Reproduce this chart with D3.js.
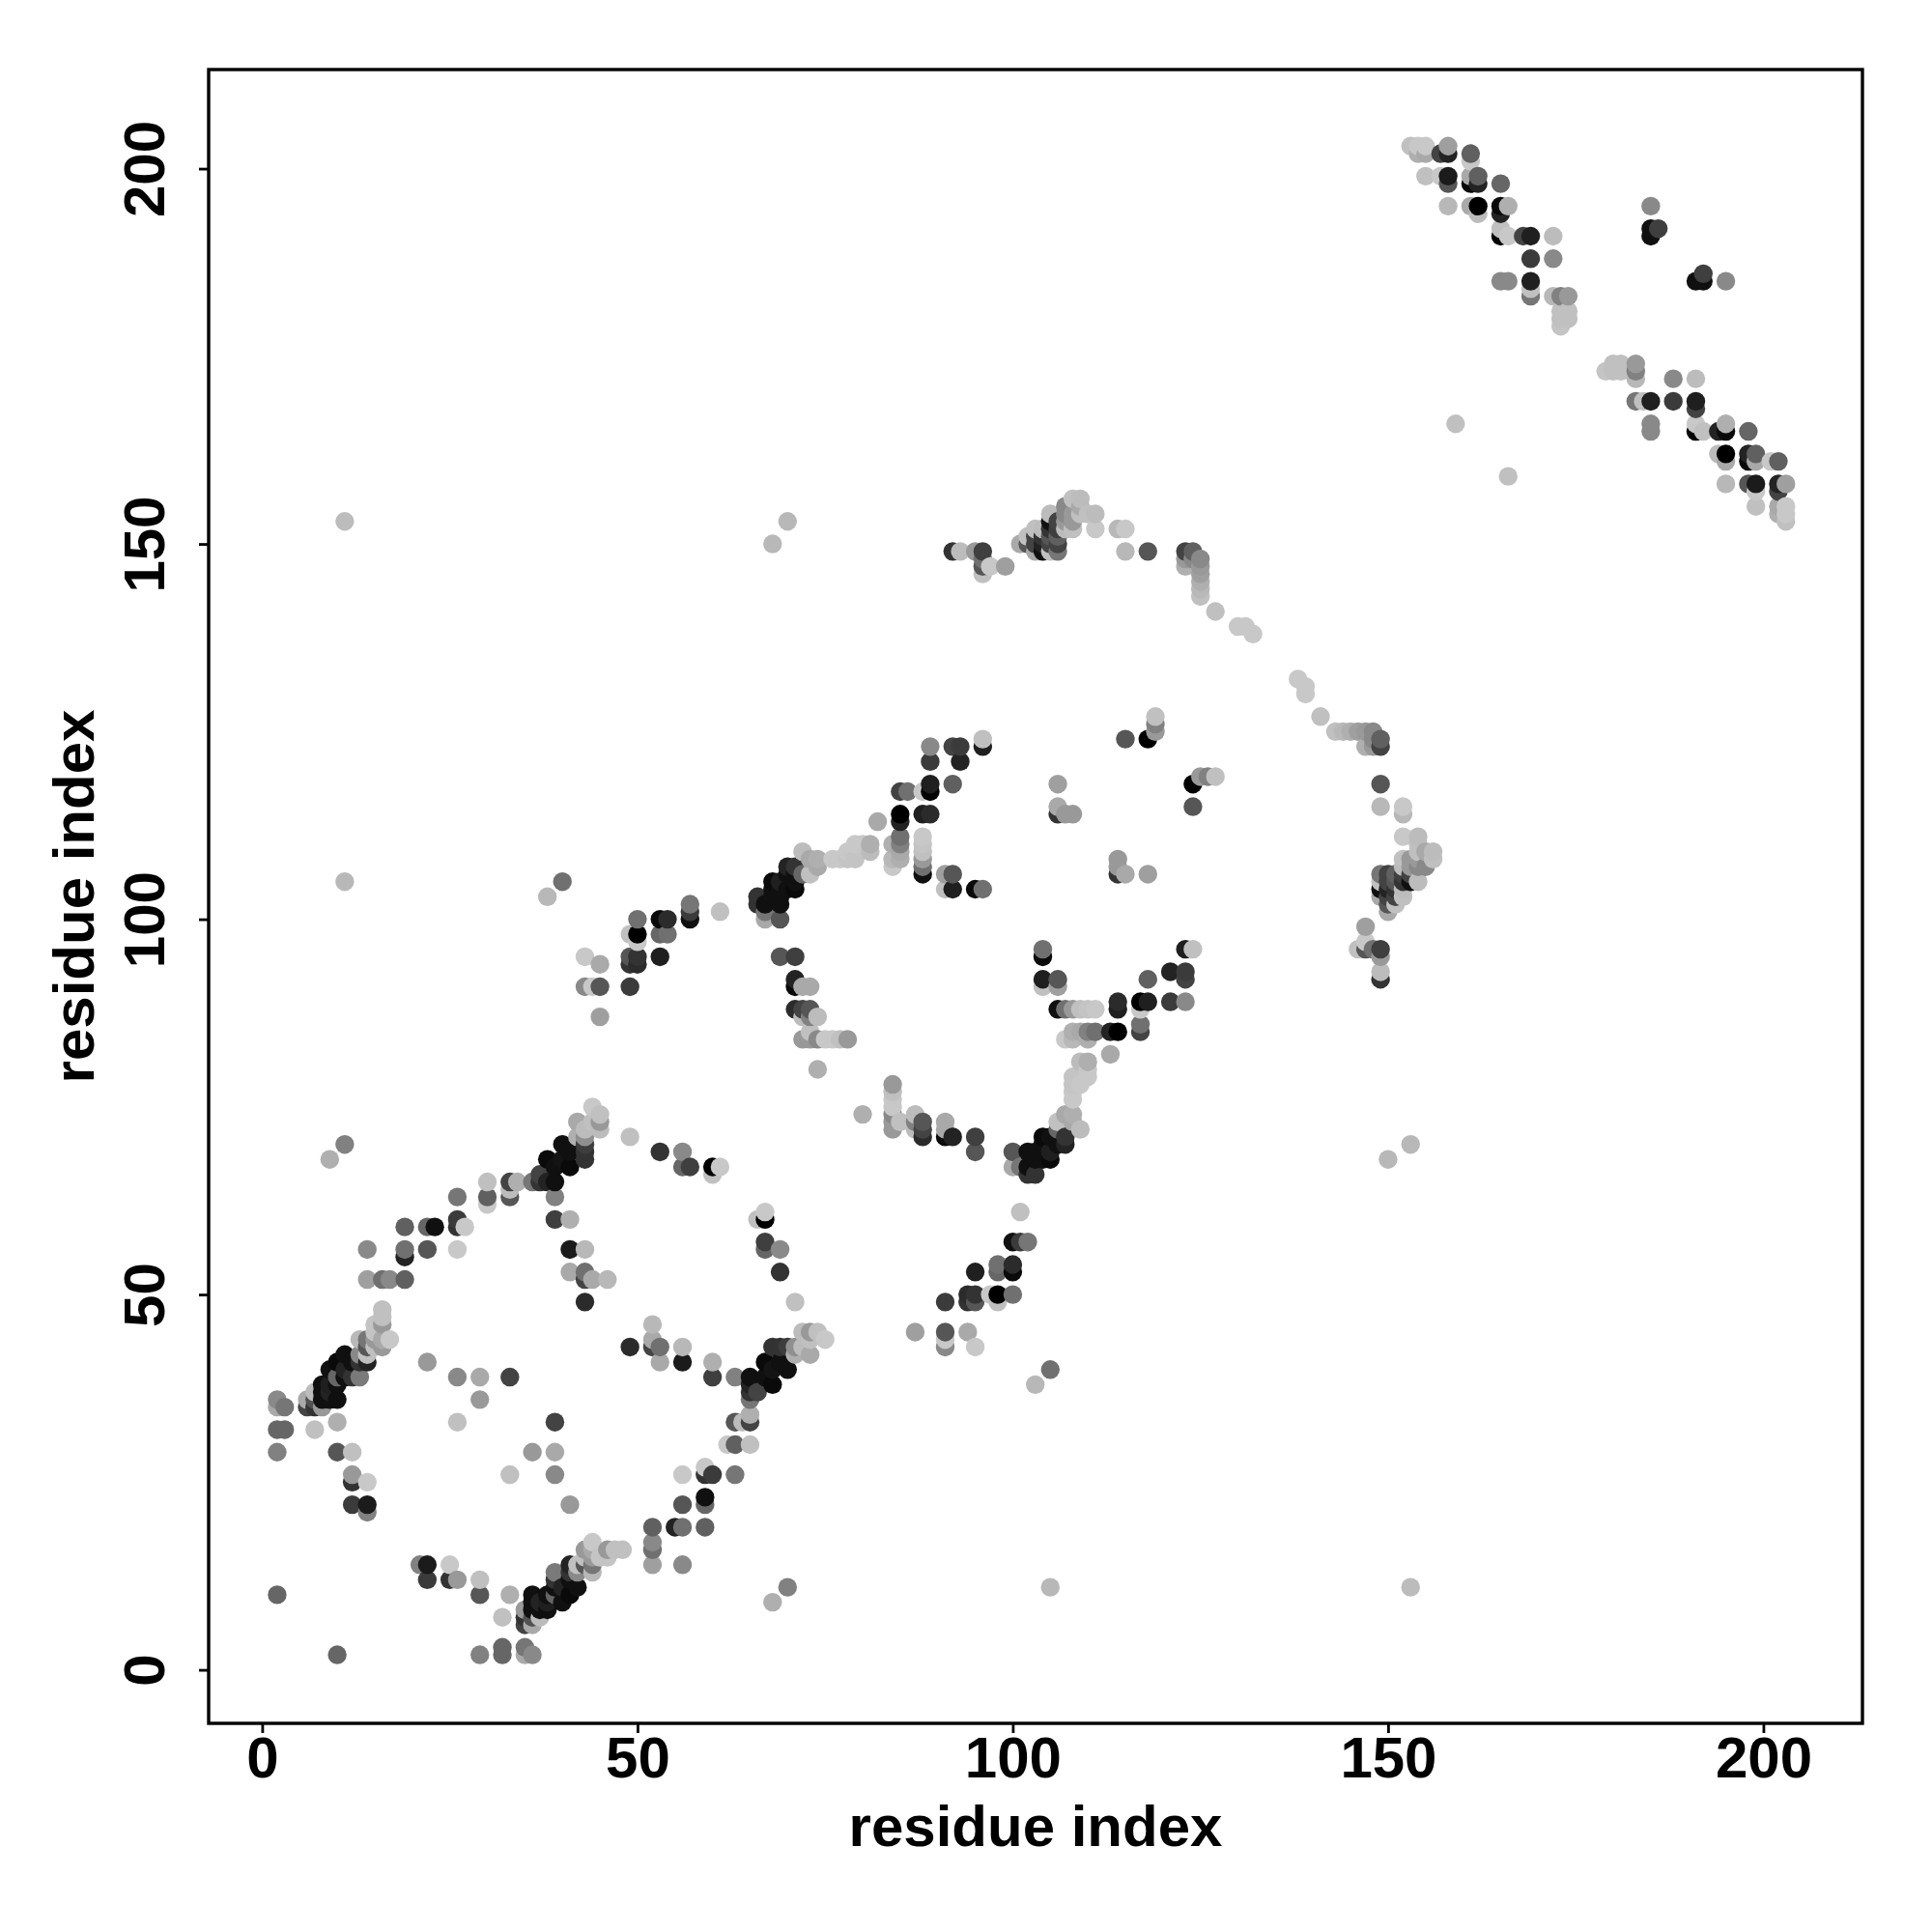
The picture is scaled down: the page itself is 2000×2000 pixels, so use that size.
<!DOCTYPE html>
<html>
<head>
<meta charset="utf-8">
<script src="https://cdn.jsdelivr.net/npm/d3@7"></script>
<style>
html,body{margin:0;padding:0;background:#fff}
svg{display:block}
text{font-family:"Liberation Sans",Arial,sans-serif;font-weight:bold;fill:#000}
</style>
</head>
<body>
<svg id="chart" width="2000" height="2000"></svg>
<script>
// Contact map: each row is [residue i, residue j, contact strength 0-100], i < j.
// The matrix is symmetric, so each row is shown at (i,j) and at (j,i).
const strayContacts = [
[2,10,50],[9,68,14],[11,70,37],[11,105,10],[11,153,8],[38,103,10],[40,105,45],[68,150,10],[70,153,10],[159,166,6]
];
const helixBandA = [
[2,29,37],[2,32,50],[2,35,17],[2,36,33],[3,32,50],[3,35,42],[6,35,67],[6,36,17],[7,32,6],[7,35,75],[7,36,60],[7,37,8],
[8,35,25],[8,36,92],[8,37,92],[8,38,92],[9,36,92],[9,37,83],[9,38,85],[9,40,92],[10,29,58],[10,33,14],[10,36,92],[10,38,92],
[10,39,50],[10,41,95],[11,39,92],[11,40,83],[11,42,92],[12,39,75],[12,41,92],[13,39,40],[13,41,75],[13,42,33],[13,44,10],
[14,41,83],[14,42,6],[14,43,58],[14,44,42],[15,43,6],[15,44,25],[15,45,4],[15,46,4],[16,43,25],[16,44,17],[16,46,25],[16,47,6],[16,48,6],[17,44,2]
];
const loopContactsA = [
[12,22,71],[12,25,75],[12,26,25],[12,29,6],[14,21,37],[14,22,87],[14,25,2],[14,52,22],[14,56,33],[16,52,45],[17,52,33],
[19,52,53],[19,55,83],[19,56,45],[19,59,53],[22,41,25],[22,56,58],[22,59,50],[23,59,92],[26,33,6],[26,39,33],[26,56,2],
[26,59,75],[26,60,71],[26,63,42],[27,59,2],[29,36,25],[29,39,17],[30,62,2],[30,63,53],[30,65,6],[33,39,67],[33,63,58],[33,64,8],[33,65,67],[34,65,14]
];
const helixBandB = [
[36,65,42],[37,65,75],[37,66,67],[38,65,83],[38,68,95],[39,60,69],[39,63,37],[39,65,92],[39,67,92],[40,68,90],[40,70,92],
[41,53,17],[41,56,87],[41,60,14],[41,67,95],[41,69,92],[42,71,14],[42,73,17],[43,49,79],[43,52,67],[43,53,45],[43,56,10],
[43,68,75],[43,69,75],[43,70,70],[43,71,30],[43,72,8],[44,52,17],[44,73,6],[44,75,2],[45,72,8],[45,73,25],[45,74,6],[46,52,10],
[49,71,6],[53,69,75],[56,67,50],[56,69,33],[57,67,69],[60,66,6],[60,67,100],[61,67,2]
];
const sheetContacts = [
[43,91,33],[43,95,2],[44,91,2],[45,87,22],[45,91,58],[45,94,17],[49,91,71],[49,94,75],[49,95,58],[49,98,6],[50,94,79],[50,95,75],
[50,97,2],[50,98,100],[50,100,45],[53,95,85],[53,98,50],[53,100,95],[54,98,45],[54,100,79],[57,100,92],[57,101,71],[57,102,42],[61,101,6]
];
const helixBandC = [
[66,102,75],[66,103,75],[67,100,17],[67,101,42],[67,102,92],[68,103,92],[68,104,92],[68,105,95],[69,100,58],[69,102,92],[69,103,92],
[69,104,92],[69,105,85],[70,104,92],[70,106,92],[70,107,83],[71,104,95],[71,105,92],[71,106,92],[71,107,75],[72,106,50],[72,109,8],
[73,106,6],[73,108,17],[74,107,17],[74,108,14],[76,108,2],[77,108,2],[78,108,4],[78,109,2],[79,108,4],[79,110,2],[80,110,2],[81,109,8],[81,110,14]
];
const loopContactsB = [
[69,95,58],[71,88,79],[71,91,95],[71,92,83],[71,95,69],[72,84,25],[72,87,8],[72,88,67],[72,91,17],[73,84,25],[73,85,6],[73,87,37],[73,88,58],
[73,91,17],[74,80,14],[74,84,33],[74,87,8],[75,84,2],[76,84,2],[77,84,6],[78,84,25]
];
const helixBandD = [
[82,113,17],[84,107,2],[84,108,10],[84,110,14],[85,108,14],[85,109,17],[85,110,37],[85,111,45],[85,113,83],[85,114,100],[85,117,67],[86,117,45],
[88,106,92],[88,107,45],[88,108,25],[88,109,6],[88,110,4],[88,111,2],[88,114,85],[88,117,2],[89,114,79],[89,117,100],[89,118,85],[89,121,71],[89,123,33],
[91,104,6],[91,106,22],[92,104,85],[92,106,58],[92,118,53],[92,123,67],[93,121,83],[93,123,71],[95,104,95],[96,104,45],[96,123,85],[96,124,6],
[106,114,75],[106,115,17],[106,118,22],[107,114,25],[108,114,25],[115,124,58],[118,124,100],[119,125,25],[119,126,37],[119,127,6]
];
const helixBandE = [
[92,149,75],[93,149,8],[95,149,25],[96,146,6],[96,147,58],[96,148,45],[96,149,69],[97,147,2],[99,147,22],
[101,150,17],[102,150,58],[102,151,6],[103,149,17],[103,150,67],[103,151,67],[103,152,6],[104,149,92],[104,150,83],[104,151,75],[104,152,8],
[105,149,6],[105,150,67],[105,151,58],[105,152,75],[105,153,92],[105,154,8],[106,149,42],[106,150,67],[106,151,53],[106,152,69],[106,153,67],
[107,152,8],[107,153,25],[107,154,33],[107,155,33],[108,152,6],[108,153,25],[108,154,25],[108,156,6],[109,154,6],[109,155,17],[109,156,8],
[110,154,6],[111,152,2],[111,154,8],[114,152,10],[115,149,10],[115,152,2],[118,149,58],[123,147,14],[123,148,25],[123,149,67],[124,148,33],[124,149,53],
[125,143,6],[125,144,10],[125,145,14],[125,146,22],[125,147,25],[125,148,33],[127,141,6],[130,139,2],[131,139,2],[132,138,2]
];
const cTerminalContacts = [
[153,203,6],[154,202,14],[154,203,2],[155,199,6],[155,202,17],[155,203,2],[157,199,2],[157,202,67],[158,195,10],[158,198,58],[158,199,87],
[158,202,83],[158,203,22],[161,195,17],[161,198,95],[161,199,17],[161,201,2],[161,202,53],[162,194,8],[162,195,100],[162,198,83],[162,199,53],
[165,185,33],[165,191,100],[165,192,6],[165,194,83],[165,195,95],[165,198,50],[166,185,33],[166,191,2],[166,195,14],[168,191,67],
[169,183,42],[169,184,6],[169,185,85],[169,188,71],[169,191,85],[172,183,10],[172,188,33],[172,191,8],[173,179,4],[173,180,6],[173,181,6],[173,183,37],
[174,180,6],[174,181,6],[174,183,25],[185,191,92],[185,192,92],[185,195,33],[186,192,69]
];
const xTickValues = [0,50,100,150,200];
const yTickValues = [0,50,100,150,200];
const xTitle = "residue index";
const yTitle = "residue index";

const width = 2000, height = 2000;
const margin = {left:216, right:72, top:72, bottom:216};
const limits = [-7.13, 213.2];

const svg = d3.select("#chart");
const x = d3.scaleLinear().domain(limits).range([margin.left, width - margin.right]);
const y = d3.scaleLinear().domain(limits).range([height - margin.bottom, margin.top]);
const shade = d3.scaleLinear().domain([0,100]).range(["#cccccc","#000000"]);

const contacts = [].concat(strayContacts, helixBandA, loopContactsA, helixBandB, sheetContacts,
  helixBandC, loopContactsB, helixBandD, helixBandE, cTerminalContacts);
const points = contacts
  .flatMap(([i,j,s]) => [{x:i,y:j,s},{x:j,y:i,s}])
  .sort((a,b) => d3.ascending(a.x,b.x) || d3.ascending(a.y,b.y));

svg.append("g").selectAll("circle").data(points).join("circle")
  .attr("cx", d => x(d.x)).attr("cy", d => y(d.y)).attr("r", 9.7)
  .attr("fill", d => shade(d.s));

svg.append("rect")
  .attr("x", margin.left).attr("y", margin.top)
  .attr("width", width - margin.left - margin.right)
  .attr("height", height - margin.top - margin.bottom)
  .attr("fill","none").attr("stroke","#000").attr("stroke-width",3.4);

const gx = svg.append("g").attr("transform",`translate(0,${height - margin.bottom})`)
  .call(d3.axisBottom(x).tickValues(xTickValues).tickSize(10).tickPadding(0));
const gy = svg.append("g").attr("transform",`translate(${margin.left},0)`)
  .call(d3.axisLeft(y).tickValues(yTickValues).tickSize(10).tickPadding(0));
[gx,gy].forEach(g => {
  g.select(".domain").remove();
  g.selectAll("line").attr("stroke","#000").attr("stroke-width",2.8);
  g.selectAll("text").style("font-size","60px").style("font-family",'"Liberation Sans",Arial,sans-serif').style("font-weight","bold");
});
gx.selectAll("text").attr("y",56).attr("dy",0).attr("text-anchor","middle");
gy.selectAll("text").attr("x",0).attr("dy",0).attr("text-anchor","middle")
  .attr("transform","translate(-46,0) rotate(-90)");

svg.append("text").attr("x",(margin.left + width - margin.right)/2).attr("y",1911)
  .attr("text-anchor","middle").style("font-size","60px").text(xTitle);
svg.append("text").attr("transform",`translate(97,${(margin.top + height - margin.bottom)/2}) rotate(-90)`)
  .attr("text-anchor","middle").style("font-size","60px").text(yTitle);
</script>
</body>
</html>
